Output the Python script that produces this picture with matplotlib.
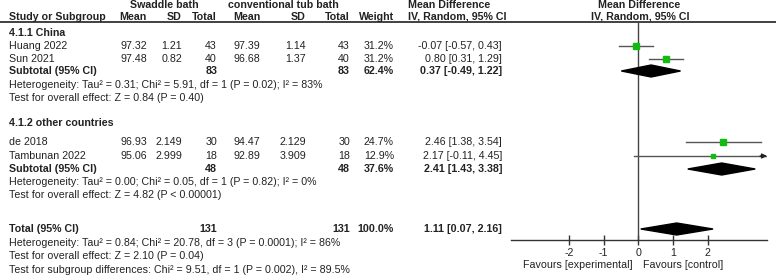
import matplotlib
matplotlib.use('Agg')
import matplotlib.pyplot as plt
from matplotlib.patches import Polygon

plt.rcParams['font.family'] = ['Liberation Sans', 'DejaVu Sans']

# study data
studies = ['Huang 2022', 'Sun 2021', 'de 2018', 'Tambunan 2022']
exp_mean = ['97.32', '97.48', '96.93', '95.06']
exp_sd = ['1.21', '0.82', '2.149', '2.999']
exp_n = [43, 40, 30, 18]
ctl_mean = ['97.39', '96.68', '94.47', '92.89']
ctl_sd = ['1.14', '1.37', '2.129', '3.909']
ctl_n = [43, 40, 30, 18]
weight = [31.2, 31.2, 24.7, 12.9]
md = [-0.07, 0.80, 2.46, 2.17]
md_lo = [-0.57, 0.31, 1.38, -0.11]
md_hi = [0.43, 1.29, 3.54, 4.45]

# pooled results: china, other countries, total
pool_names = ['Subtotal (95% CI)', 'Subtotal (95% CI)', 'Total (95% CI)']
pool_n = [83, 48, 131]
pool_w = ['62.4%', '37.6%', '100.0%']
pool_md = [0.37, 2.41, 1.11]
pool_lo = [-0.49, 1.43, 0.07]
pool_hi = [1.22, 3.38, 2.16]

het_china = 'Heterogeneity: Tau\u00b2 = 0.31; Chi\u00b2 = 5.91, df = 1 (P = 0.02); I\u00b2 = 83%'
eff_china = 'Test for overall effect: Z = 0.84 (P = 0.40)'
het_other = 'Heterogeneity: Tau\u00b2 = 0.00; Chi\u00b2 = 0.05, df = 1 (P = 0.82); I\u00b2 = 0%'
eff_other = 'Test for overall effect: Z = 4.82 (P < 0.00001)'
het_total = 'Heterogeneity: Tau\u00b2 = 0.84; Chi\u00b2 = 20.78, df = 3 (P = 0.0001); I\u00b2 = 86%'
eff_total = 'Test for overall effect: Z = 2.10 (P = 0.04)'
sub_diff = 'Test for subgroup differences: Chi\u00b2 = 9.51, df = 1 (P = 0.002), I\u00b2 = 89.5%'

ticks = [-2, -1, 0, 1, 2]

# layout (pixels from top-left)
W, H = 776, 278
study_y = [46, 59, 142, 156]
pool_y = [71, 169, 229]
line_y = 22
axis_y = 240
zero_px, unit_px = 638.3, 34.6
plot_l, plot_r = 511, 767

txt = '#222222'
fs = 7.7

fig = plt.figure(figsize=(W / 100, H / 100), dpi=100)
ax = fig.add_axes([0, 0, 1, 1])
ax.set_xlim(0, W)
ax.set_ylim(H, 0)
ax.axis('off')

def t(x, y, s, ha='left', bold=False, va='center'):
    ax.text(x, y, s, ha=ha, va=va, fontsize=fs, color=txt,
            fontweight='bold' if bold else 'normal')

# header
t(164, 5, 'Swaddle bath', 'center', True)
t(283, 5, 'conventional tub bath', 'center', True)
t(408, 5, 'Mean Difference', 'left', True)
t(639, 5, 'Mean Difference', 'center', True)
hy = 19.5
t(9, hy, 'Study or Subgroup', bold=True, va='baseline')
for x, s in [(147, 'Mean'), (182, 'SD'), (217, 'Total'), (260, 'Mean'),
             (306, 'SD'), (350, 'Total'), (394, 'Weight')]:
    t(x, hy, s, 'right', True, va='baseline')
t(408, hy, 'IV, Random, 95% CI', bold=True, va='baseline')
t(640, hy, 'IV, Random, 95% CI', 'center', True, va='baseline')
ax.plot([0, W], [line_y, line_y], color='#333333', lw=1.3)

# subgroup headings and footers
t(9, 33, '4.1.1 China', bold=True)
t(9, 85, het_china)
t(9, 98, eff_china)
t(9, 123, '4.1.2 other countries', bold=True)
t(9, 182, het_other)
t(9, 195, eff_other)
t(9, 243, het_total)
t(9, 256, eff_total)
t(9, 270, sub_diff)

for i, y in enumerate(study_y):
    t(9, y, studies[i])
    t(147, y, exp_mean[i], 'right')
    t(182, y, exp_sd[i], 'right')
    t(217, y, str(exp_n[i]), 'right')
    t(260, y, ctl_mean[i], 'right')
    t(306, y, ctl_sd[i], 'right')
    t(350, y, str(ctl_n[i]), 'right')
    t(394, y, '%.1f%%' % weight[i], 'right')
    t(502, y, '%.2f [%.2f, %.2f]' % (md[i], md_lo[i], md_hi[i]), 'right')

for i, y in enumerate(pool_y):
    t(9, y, pool_names[i], bold=True)
    t(217, y, str(pool_n[i]), 'right', True)
    t(350, y, str(pool_n[i]), 'right', True)
    t(394, y, pool_w[i], 'right', True)
    t(502, y, '%.2f [%.2f, %.2f]' % (pool_md[i], pool_lo[i], pool_hi[i]), 'right', True)

# forest plot axes
fx = fig.add_axes([plot_l / W, (H - axis_y) / H, (plot_r - plot_l) / W, axis_y / H])
fx.set_xlim((plot_l - zero_px) / unit_px, (plot_r - zero_px) / unit_px)
fx.set_ylim(axis_y, 0)
fx.patch.set_alpha(0)
for s in ['top', 'right', 'left']:
    fx.spines[s].set_visible(False)
fx.spines['bottom'].set_color('#333333')
fx.spines['bottom'].set_linewidth(1.0)
fx.set_yticks([])
fx.set_xticks(ticks)
fx.set_xticklabels([str(v) for v in ticks], fontsize=fs, color=txt)
fx.tick_params(axis='x', direction='inout', length=7, width=1, color='#333333', pad=2)
fx.vlines(0, line_y, axis_y, color='#444444', lw=1)

xmax = fx.get_xlim()[1]
for i, y in enumerate(study_y):
    hi = min(md_hi[i], xmax)
    fx.plot([md_lo[i], hi], [y, y], color='#555555', lw=1, zorder=2)
    if md_hi[i] > xmax:
        fx.annotate('', xy=(xmax, y), xytext=(xmax - 0.2, y),
                    arrowprops=dict(arrowstyle='-|>', color='#222222', lw=1,
                                    mutation_scale=7, shrinkA=0, shrinkB=0))
    fx.plot(md[i], y, 's', color='#11bb11', mec='#11bb11',
            markersize=0.85 * weight[i] ** 0.5, zorder=3)

for i, y in enumerate(pool_y):
    dia = Polygon([(pool_lo[i], y), (pool_md[i], y - 6), (pool_hi[i], y),
                   (pool_md[i], y + 6)], closed=True, color='black', zorder=3)
    fx.add_patch(dia)

fx.text(-0.15, 265, 'Favours [experimental]', ha='right', va='center',
        fontsize=fs, color=txt, transform=fx.transData, clip_on=False)
fx.text(0.15, 265, 'Favours [control]', ha='left', va='center',
        fontsize=fs, color=txt, transform=fx.transData, clip_on=False)

fig.savefig('out.png', dpi=100)
